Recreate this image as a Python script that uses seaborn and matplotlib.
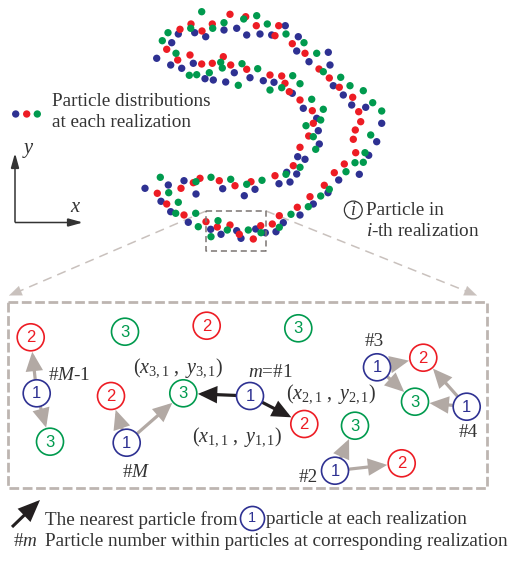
import numpy as np
import pandas as pd
import matplotlib
matplotlib.use("Agg")
import matplotlib.pyplot as plt
import seaborn as sns
from matplotlib.patches import FancyArrowPatch

# ---------------- data ----------------
blue_x = [285.3,178.3,194.7,205.7,224,236.7,246.7,260,271.7,298.3,171.7,296.7,328.3,156.7,193.3,309,330,170.7,181.7,234.3,
          205,213.3,225.7,250,263.3,274,333.3,292.3,343.3,351.7,365.7,303.3,316.7,381.7,318.3,376.7,319.3,368.7,297.7,305,
          359.3,286.7,296.7,184,168.3,222.7,279,290,338.7,145,255,196,328,244.3,161,313.3,170.7,188.3,210.7,236.7,
          221,241,255.7,265.3,276,283.3,300]
blue_y = [25.7,34,32.7,36.7,30,28.3,35,34,35,36.7,42.7,51,52.3,58.3,63.3,61.7,65,65,68.3,72.7,
          78.7,80,82,77.7,80.7,82.3,85.7,93.3,95,105,107.3,108.3,118.3,123.3,130.7,141.7,144,155.3,156.7,159.3,
          174.3,172.3,174,180.7,185,188.7,183.7,182,180,188.3,189.3,194,192.7,195.7,201.3,204,211.7,222.3,229.3,230.7,
          234.3,238.3,229,232.7,231.7,222.7,215]
red_x = [230,245.7,191,212.3,256.3,278.7,180,202,275,292.3,166.7,190,223.3,305,177.7,201.7,212.3,230.7,246.7,319,
         270,281.7,329.3,285,339.3,289.3,352.7,300,312.3,358.7,313.3,360.7,355.3,308.7,353.3,300,355.7,344.3,293.3,334.3,
         275,200,219.3,193.3,181,235,251,324.3,157.3,310,166.7,297.3,184,206,217.3,230,239.3,253.3,260.7,272.3,279.3]
red_y = [14.3,16.7,24,24,25.7,25.7,29.3,31,35.7,43.7,49.3,55,56.7,53.3,60,64,63.3,65,69.3,69,
         75,76,78,83.3,87.3,91.7,97.3,100,110.7,111.7,123.3,121.7,130,136,139.3,147.3,152.7,164,165.7,172.7,
         175.7,178.3,180.7,182.7,188.3,185.7,181.7,185.3,193.3,196.7,204,207.3,215,221.7,227,225,234.3,239,225.7,224,215.7]
green_x = [201.7,243.7,256.7,224,212.7,267.3,190.7,168,286,162.3,304,176,316.7,220.7,242,222.3,257.7,323.3,189.3,196.7,
           209.3,292.7,340.7,300,238.3,281.7,350,270,363.3,311.7,372.7,323.3,381.7,320.7,306,313.3,370.7,315.7,365,355,
           363.3,300,346,286,160.3,211,230.7,196,246.7,262,168.7,329.3,320.7,178.3,308.3,175.7,195.7,198.3,218,227.3,
           211,248.3,261,279.3,291]
green_y = [11.7,19,15.7,22.7,28.3,24,28.3,32.7,34,40.7,42.7,53.3,53.3,62.3,63.7,68,68.7,71.7,75.3,74.7,
           72.7,75.7,77.3,83.7,85.3,87.7,85.7,90,90.7,99.3,102.7,109.3,111,120,125.7,136.7,135,149.3,152.7,162.7,
           162.3,167.3,171.7,174.3,177.3,177.3,179.3,181.7,184.3,180.3,192.7,189.3,196,202.3,206.7,213.3,213.3,226.7,220.7,230,
           236.7,230,232.7,227.3,214.3]

# particles in the zoomed box
circle_x = [30.7, 125, 206.7, 36.7, 50, 111, 183.3, 126.7, 250, 298.3, 377, 423.3, 415, 466.7, 304.3, 355, 335, 401.7]
circle_y = [337.3, 331.7, 325.7, 393.3, 441.7, 396, 393.3, 442.7, 396, 328.3, 367.3, 357.7, 401.7, 406.7, 424, 425.7, 470.7, 463.3]
circle_label = ["2", "3", "2", "1", "3", "2", "3", "1", "1", "3", "1", "2", "3", "1", "2", "3", "1", "2"]

# nearest-particle links (from index, to index)
gray_links = [(3, 0), (3, 4), (7, 5), (7, 6), (10, 11), (10, 12), (13, 11), (13, 12), (16, 15), (16, 17)]
black_links = [(8, 6), (8, 14)]

BLUE, RED, GREEN = "#2E3192", "#ED1C24", "#009A4E"
palette = {"1": BLUE, "2": RED, "3": GREEN}
GRAY = "#B2A9A4"
TXT = "#333333"

# ---------------- figure ----------------
sns.set_theme(style="white")
plt.rcParams["font.family"] = ["Liberation Serif", "DejaVu Serif"]
plt.rcParams["mathtext.fontset"] = "custom"
plt.rcParams["mathtext.rm"] = "Liberation Serif"
plt.rcParams["mathtext.it"] = "Liberation Serif:italic"

fig = plt.figure(figsize=(5.22, 5.61), dpi=100)
ax = fig.add_axes([0, 0, 1, 1])

df = pd.DataFrame({
    "x": blue_x + red_x + green_x,
    "y": blue_y + red_y + green_y,
    "real": ["1"] * len(blue_x) + ["2"] * len(red_x) + ["3"] * len(green_x),
})
sns.scatterplot(data=df, x="x", y="y", hue="real", palette=palette, s=28,
                linewidth=0, legend=False, ax=ax, zorder=3)

# legend dots
leg = pd.DataFrame({"x": [15.7, 26.7, 37.3], "y": [114, 114, 114], "real": ["1", "2", "3"]})
sns.scatterplot(data=leg, x="x", y="y", hue="real", palette=palette, s=28,
                linewidth=0, legend=False, ax=ax, zorder=3)

ax.set_xlim(0, 522)
ax.set_ylim(561, 0)
ax.axis("off")

FS = 13.8

ax.text(52, 101, "Particle distributions", fontsize=FS, color=TXT, va="center", ha="left")
ax.text(52, 122, "at each realization", fontsize=FS, color=TXT, va="center", ha="left")

# xy axes
def arrow(p0, p1, color, lw, hl, hw, ms=10, z=4, shrinkB=0, ls="-"):
    a = FancyArrowPatch(p0, p1, arrowstyle=f"-|>,head_length={hl},head_width={hw}",
                        mutation_scale=ms, color=color, lw=lw, shrinkA=0, shrinkB=shrinkB,
                        zorder=z, linestyle=ls, joinstyle="miter", capstyle="butt")
    ax.add_patch(a)

arrow((15, 222.5), (15, 153), TXT, 1.1, 0.9, 0.25)
arrow((15, 222.5), (83, 222.5), TXT, 1.1, 0.9, 0.25)
ax.text(28, 150, "$y$", fontsize=FS + 1, color=TXT, ha="center", va="center")
ax.text(76, 207, "$x$", fontsize=FS + 1, color=TXT, ha="center", va="center")

# (i) marker
ax.scatter([353.3], [210], s=165, facecolors="none", edgecolors=TXT, linewidths=0.9, zorder=4)
ax.text(353.3, 210.5, "$i$", fontsize=FS - 1, color=TXT, ha="center", va="center")
ax.text(366.5, 210, "Particle in", fontsize=FS, color=TXT, va="center", ha="left")
ax.text(366, 231, "$i$-th realization", fontsize=FS, color=TXT, va="center", ha="left")

# small dashed box
ax.plot([206, 266, 266, 206, 206], [211, 211, 251, 251, 211], color="#7A7472", lw=1.1,
        ls=(0, (4, 2.5)), zorder=5)
# zoom guide lines
ax.plot([206, 14], [211, 293.5], color="#C9C1BD", lw=1.1, ls=(0, (6, 4)), zorder=1)
ax.plot([266, 472], [211, 293.5], color="#C9C1BD", lw=1.1, ls=(0, (6, 4)), zorder=1)
arrow((20, 291), (9, 295.5), "#C9C1BD", 0.1, 1.0, 0.4, ms=9, z=1)
arrow((466, 291), (477, 295.5), "#C9C1BD", 0.1, 1.0, 0.4, ms=9, z=1)

# big dashed box
ax.plot([8, 487, 487, 8, 8], [301.5, 301.5, 488, 488, 301.5], color="#BDB5B1", lw=2.0,
        ls=(0, (3.5, 1.3)), zorder=1)

# links
for i, j in gray_links:
    arrow((circle_x[i], circle_y[i]), (circle_x[j], circle_y[j]), GRAY, 2.3, 1.0, 0.45,
          ms=10, z=4, shrinkB=10.5)
for i, j in black_links:
    arrow((circle_x[i], circle_y[i]), (circle_x[j], circle_y[j]), "#231F20", 2.3, 1.0, 0.45,
          ms=10, z=4, shrinkB=10.5)

# circles
ax.scatter(circle_x, circle_y, s=378, facecolors="white",
           edgecolors=[palette[c] for c in circle_label], linewidths=1.2, zorder=5)
for cx, cy, c in zip(circle_x, circle_y, circle_label):
    ax.text(cx, cy + 0.5, c, fontsize=12, color=palette[c], ha="center", va="center",
            family=["Liberation Sans", "DejaVu Sans"], zorder=6)

# labels in box
MS = 14.5
ax.text(48, 375, "#$M$-1", fontsize=FS, color=TXT, ha="left", va="center")
ax.text(178, 368, r"$(x_{3,1}\ ,\ y_{3,1})$", fontsize=MS, color=TXT, ha="center", va="center")
ax.text(136, 472, "#$M$", fontsize=FS, color=TXT, ha="center", va="center")
ax.text(270, 372, "$m$=#1", fontsize=FS, color=TXT, ha="center", va="center")
ax.text(237, 437, r"$(x_{1,1}\ ,\ y_{1,1})$", fontsize=MS, color=TXT, ha="center", va="center")
ax.text(331, 394, r"$(x_{2,1}\ ,\ y_{2,1})$", fontsize=MS, color=TXT, ha="center", va="center")
ax.text(374, 341, "#3", fontsize=FS, color=TXT, ha="center", va="center")
ax.text(468, 432, "#4", fontsize=FS, color=TXT, ha="center", va="center")
ax.text(308, 477, "#2", fontsize=FS, color=TXT, ha="center", va="center")

# bottom legend
arrow((12, 527), (40, 500), "#231F20", 2.2, 1.2, 0.5, ms=10)
ax.text(45, 520, "The nearest particle from", fontsize=FS, color=TXT, ha="left", va="center")
ax.scatter([252], [518], s=300, facecolors="white", edgecolors=BLUE, linewidths=1.2, zorder=5)
ax.text(252, 518.5, "1", fontsize=10.5, color=BLUE, ha="center", va="center",
        family=["Liberation Sans", "DejaVu Sans"], zorder=6)
ax.text(266, 520, "particle at each realization", fontsize=FS, color=TXT, ha="left", va="center")
ax.text(13, 542, "#$m$", fontsize=FS, color=TXT, ha="left", va="center")
ax.text(45, 542, "Particle number within particles at corresponding realization", fontsize=FS,
        color=TXT, ha="left", va="center")

fig.savefig("out.png", dpi=100)
